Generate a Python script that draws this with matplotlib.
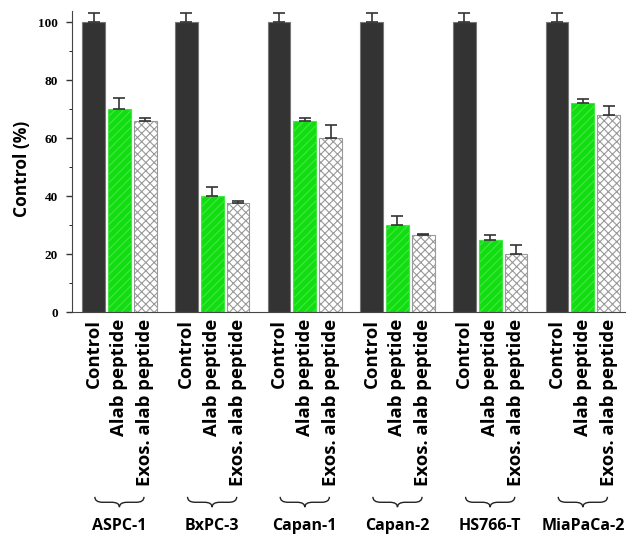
import numpy as np
import matplotlib
matplotlib.use("Agg")
import matplotlib.pyplot as plt
from matplotlib.path import Path
from matplotlib.patches import PathPatch
from matplotlib.transforms import blended_transform_factory

# data
cell_lines = ["ASPC-1", "BxPC-3", "Capan-1", "Capan-2", "HS766-T", "MiaPaCa-2"]
treatments = ["Control", "Alab peptide", "Exos. alab peptide"]
control_vals = [100, 100, 100, 100, 100, 100]
control_err = [3, 3, 3, 3, 3, 3]
alab_vals = [70, 40, 66, 30, 25, 72]
alab_err = [4, 3, 1, 3, 1.5, 1.5]
exos_vals = [66, 37.5, 60, 26.5, 20, 68]
exos_err = [1, 1, 4.5, 0.5, 3, 3]

plt.rcParams['hatch.linewidth'] = 0.8

fig = plt.figure(figsize=(6.32, 5.43), dpi=100)
ax = fig.add_axes([0.114, 0.425, 0.875, 0.561])

group_gap = 3.58
width = 0.88
base = np.arange(len(cell_lines)) * group_gap

series = [
    (control_vals, control_err, dict(color="#333333", edgecolor="#777777")),
    (alab_vals, alab_err, dict(color="#11dd11", edgecolor="#888888", hatch="////")),
    (exos_vals, exos_err, dict(color="white", edgecolor="#999999", hatch="xxxx")),
]
for k, (vals, errs, style) in enumerate(series):
    ax.bar(base + k, vals, width, linewidth=0.8, **style)
    ax.errorbar(base + k, vals, yerr=[np.zeros(len(errs)), errs], fmt="none",
                ecolor="#333333", elinewidth=1.2, capsize=4, capthick=1.2)

# green hatch lines in a lighter shade
for p in ax.patches:
    if p.get_hatch() == "////":
        p.set_edgecolor("#44e844")

ax.set_xlim(-0.83, base[-1] + 2 + 0.63)
ax.set_ylim(0, 105)
ax.set_yticks(range(0, 101, 20))
ax.set_yticks(range(10, 100, 20), minor=True)
ax.set_yticklabels([str(v) for v in range(0, 101, 20)],
                   fontfamily="Liberation Serif", fontweight="bold", fontsize=9.5)
ax.tick_params(axis="y", length=4, width=1, color="#333333", pad=6)
ax.tick_params(axis="y", which="minor", length=2.5)

pos = np.concatenate([base + k for k in range(3)])
lbl = [t for t in treatments for _ in cell_lines]
ax.set_xticks(pos)
ax.set_xticklabels(lbl, rotation=90, fontfamily="Open Sans",
                   fontweight="bold", fontsize=13.3, va="top")
ax.tick_params(axis="x", length=0, pad=5)

for s in ["top", "right"]:
    ax.spines[s].set_visible(False)
ax.spines["left"].set_color("#444444")
ax.spines["bottom"].set_color("#444444")
ax.spines["left"].set_bounds(0, 104)

ax.set_ylabel("Control (%)", fontfamily="Open Sans", fontweight="bold", fontsize=12.5)
ax.yaxis.set_label_coords(-0.075, 0.47)

# curly braces under each group + group names
tr = blended_transform_factory(ax.transData, fig.transFigure)
for i, name in enumerate(cell_lines):
    x0 = base[i] + 0.05
    x1 = base[i] + 1.95
    xm = (x0 + x1) / 2
    yt, ym, yb = 0.085, 0.075, 0.066
    q = 0.3
    verts = [(x0, yt), (x0, ym), (x0 + q, ym),
             (xm - q, ym), (xm, ym), (xm, yb),
             (xm, ym), (xm + q, ym),
             (x1 - q, ym), (x1, ym), (x1, yt)]
    codes = [Path.MOVETO, Path.CURVE3, Path.CURVE3,
             Path.LINETO, Path.CURVE3, Path.CURVE3,
             Path.CURVE3, Path.CURVE3,
             Path.LINETO, Path.CURVE3, Path.CURVE3]
    ax.add_patch(PathPatch(Path(verts, codes), transform=tr, fill=False,
                           edgecolor="#222222", linewidth=1.0, clip_on=False))
    fig.text(xm, 0.032, name, transform=tr, ha="center", va="center",
             fontfamily="Open Sans", fontweight="bold", fontsize=11.5)

fig.savefig("out.png", dpi=100)
